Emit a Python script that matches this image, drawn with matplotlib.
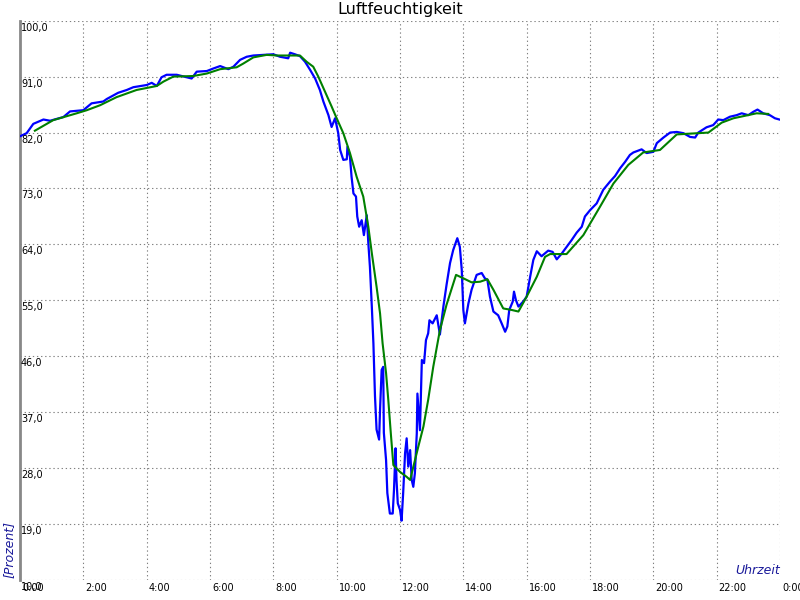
import matplotlib
matplotlib.use("Agg")
import matplotlib.pyplot as plt
from matplotlib.transforms import offset_copy

# Messwerte (blau) - Uhrzeit in Stunden, Luftfeuchtigkeit in Prozent
t_raw = [0.0, 0.21, 0.42, 0.74, 0.95, 1.37, 1.58, 2.0, 2.26, 2.63, 2.74, 3.10, 3.37,
         3.58, 4.0, 4.16, 4.32, 4.47, 4.63, 4.95, 5.26, 5.42, 5.58, 5.90, 6.10, 6.32,
         6.58, 6.74, 6.95, 7.16, 7.37, 7.68, 8.0, 8.21, 8.47, 8.53, 8.68, 8.84, 9.0,
         9.16, 9.32, 9.47, 9.58, 9.74, 9.84, 9.95, 10.05, 10.11, 10.21, 10.32, 10.34,
         10.42, 10.47, 10.53, 10.61, 10.65, 10.71, 10.79, 10.86, 10.95, 11.0, 11.05,
         11.11, 11.16, 11.21, 11.26, 11.34, 11.37, 11.42, 11.47, 11.49, 11.56, 11.60,
         11.68, 11.77, 11.81, 11.86, 11.89, 11.93, 12.0, 12.05, 12.10, 12.16, 12.21,
         12.26, 12.32, 12.37, 12.42, 12.47, 12.53, 12.55, 12.63, 12.69, 12.76, 12.82,
         12.89, 12.93, 13.03, 13.16, 13.26, 13.37, 13.47, 13.58, 13.68, 13.81, 13.89,
         13.95, 14.0, 14.05, 14.16, 14.26, 14.42, 14.58, 14.68, 14.76, 14.84, 14.95,
         15.10, 15.21, 15.32, 15.39, 15.45, 15.56, 15.60, 15.66, 15.74, 15.89, 16.0,
         16.11, 16.21, 16.32, 16.47, 16.68, 16.82, 16.95, 17.11, 17.26, 17.42, 17.58,
         17.74, 17.84, 18.0, 18.21, 18.42, 18.63, 18.79, 18.95, 19.11, 19.26, 19.37,
         19.63, 19.79, 20.0, 20.11, 20.32, 20.53, 20.74, 20.95, 21.16, 21.32, 21.42,
         21.68, 21.89, 22.05, 22.21, 22.42, 22.63, 22.79, 23.0, 23.16, 23.29, 23.47,
         23.68, 23.84, 23.98]
rh_raw = [81.4, 81.9, 83.4, 84.1, 83.9, 84.5, 85.4, 85.6, 86.7, 87.0, 87.4, 88.4, 88.85,
          89.3, 89.65, 90.0, 89.5, 90.9, 91.3, 91.3, 90.9, 90.7, 91.8, 91.9, 92.3, 92.7,
          92.2, 92.6, 93.7, 94.2, 94.4, 94.5, 94.6, 94.2, 93.95, 94.85, 94.6, 94.3, 93.4,
          92.1, 90.7, 88.85, 87.0, 84.8, 82.9, 84.3, 81.9, 79.2, 77.6, 77.7, 79.7,
          78.1, 74.9, 72.2, 71.7, 68.5, 66.85, 67.9, 65.5, 68.7, 64.2, 60.4,
          54.0, 48.1, 39.6, 34.2, 32.6, 37.4, 43.8, 44.3, 33.7, 29.3, 24.0,
          20.7, 20.7, 24.5, 31.2, 26.1, 22.35, 21.3, 19.55, 24.0, 30.4, 32.8,
          28.25, 30.9, 26.1, 25.0, 27.2, 33.6, 40.0, 34.1, 45.4, 44.9, 48.6,
          49.7, 51.8, 51.3, 52.6, 49.5, 54.0, 57.5, 61.0, 63.1, 65.0, 63.6,
          59.9, 53.45, 51.3, 54.5, 56.7, 59.1, 59.4, 58.55, 58.3, 55.6, 53.2,
          52.6, 51.3, 49.95, 50.8, 53.45, 54.8, 56.4, 55.05, 54.0, 54.8, 55.6,
          58.8, 61.5, 62.9, 62.1, 63.0, 62.8, 61.6, 62.55, 63.6, 64.7, 65.9,
          66.85, 68.5, 69.5, 70.6, 72.8, 74.1, 75.0, 76.25, 77.3, 78.4, 78.8,
          79.3, 78.7, 78.9, 80.3, 81.2, 82.0, 82.1, 81.9, 81.3, 81.2, 82.0,
          82.85, 83.2, 84.1, 84.0, 84.55, 84.8, 85.1, 84.8, 85.35, 85.7, 85.1,
          84.8, 84.3, 84.1]

# geglaettete Kurve (gruen)
t_avg = [0.47, 1.05, 1.79, 2.11, 2.53, 3.05, 3.68, 4.32, 4.53, 4.84, 5.47, 5.90, 6.32,
         6.84, 7.05, 7.37, 7.79, 8.11, 8.84, 9.05, 9.26, 9.42, 9.63, 9.84, 10.0, 10.21,
         10.42, 10.63, 10.84, 11.0, 11.11, 11.26, 11.37, 11.45, 11.56, 11.63, 11.71,
         11.79, 12.0, 12.21, 12.32, 12.42, 12.58, 12.74, 12.89, 13.05, 13.26, 13.47,
         13.77, 14.0, 14.26, 14.53, 14.76, 14.95, 15.26, 15.53, 15.74, 16.0, 16.32,
         16.58, 16.74, 17.26, 17.79, 18.32, 18.74, 19.21, 19.68, 20.21, 20.74, 21.74,
         22.16, 22.53, 23.26, 23.63]
rh_avg = [82.3, 84.0, 85.1, 85.6, 86.4, 87.7, 88.85, 89.5, 90.2, 91.0, 91.1, 91.5, 92.2,
          92.5, 93.1, 94.1, 94.5, 94.4, 94.4, 93.4, 92.6, 91.0, 88.6, 86.2, 84.3, 81.9,
          78.7, 74.9, 71.7, 66.85, 62.6, 57.2, 52.9, 48.1, 43.3, 39.0, 33.6,
          28.5, 27.4, 26.6, 26.1, 28.2, 31.5, 34.7, 39.0, 44.3, 50.2, 54.3,
          59.1, 58.55, 57.9, 58.0, 58.4, 56.7, 53.7, 53.45, 53.2, 55.6, 58.8,
          62.0, 62.45, 62.45, 65.5, 70.1, 73.8, 76.8, 78.8, 79.2, 81.7, 82.0,
          83.6, 84.3, 85.1, 85.0]

y_ticks = [10, 19, 28, 37, 46, 55, 64, 73, 82, 91, 100]
x_ticks = list(range(0, 25, 2))
x_labels = ["0:00", "2:00", "4:00", "6:00", "8:00", "10:00", "12:00", "14:00",
            "16:00", "18:00", "20:00", "22:00", "0:00"]

fig = plt.figure(figsize=(8, 6), dpi=100)
ax = fig.add_axes([0.025, 0.0333, 0.95, 0.9322])

ax.plot(t_raw, rh_raw, color="#0000ff", lw=1.6, zorder=3)
ax.plot(t_avg, rh_avg, color="#008000", lw=1.5, zorder=4)

ax.set_xlim(0, 24)
ax.set_ylim(10, 100)
ax.set_xticks(x_ticks)
ax.set_yticks(y_ticks)
ax.tick_params(length=0, labelbottom=False, labelleft=False)
ax.grid(True, color="#808080", lw=0.8, linestyle=(0, (1.2, 2.5)))
for s in ["top", "right", "bottom"]:
    ax.spines[s].set_visible(False)
ax.spines["left"].set_color("#888888")
ax.spines["left"].set_linewidth(2)

# Achsenbeschriftungen als Text
ytr = offset_copy(ax.get_yaxis_transform(), fig=fig, x=1, y=-2, units="dots")
for v in y_ticks:
    ax.text(0, v, f"{v},0", transform=ytr, fontsize=7, ha="left", va="top",
            color="black", zorder=5)
xtr = offset_copy(ax.get_xaxis_transform(), fig=fig, x=2, y=-3, units="dots")
for t, lab in zip(x_ticks, x_labels):
    ax.text(t, 0, lab, transform=xtr, fontsize=7, ha="left", va="top",
            color="black", clip_on=False)

fig.text(0.5, 0.997, "Luftfeuchtigkeit", ha="center", va="top", fontsize=11.5)
fig.text(0.011, 0.037, "[Prozent]", rotation=90, ha="center", va="bottom",
         fontsize=9, style="italic", color="#1a1a9a")
ax.text(1.0, 0.005, "Uhrzeit", transform=ax.transAxes, ha="right", va="bottom",
        fontsize=9, style="italic", color="#1a1a9a")

fig.savefig("out.png", dpi=100)
